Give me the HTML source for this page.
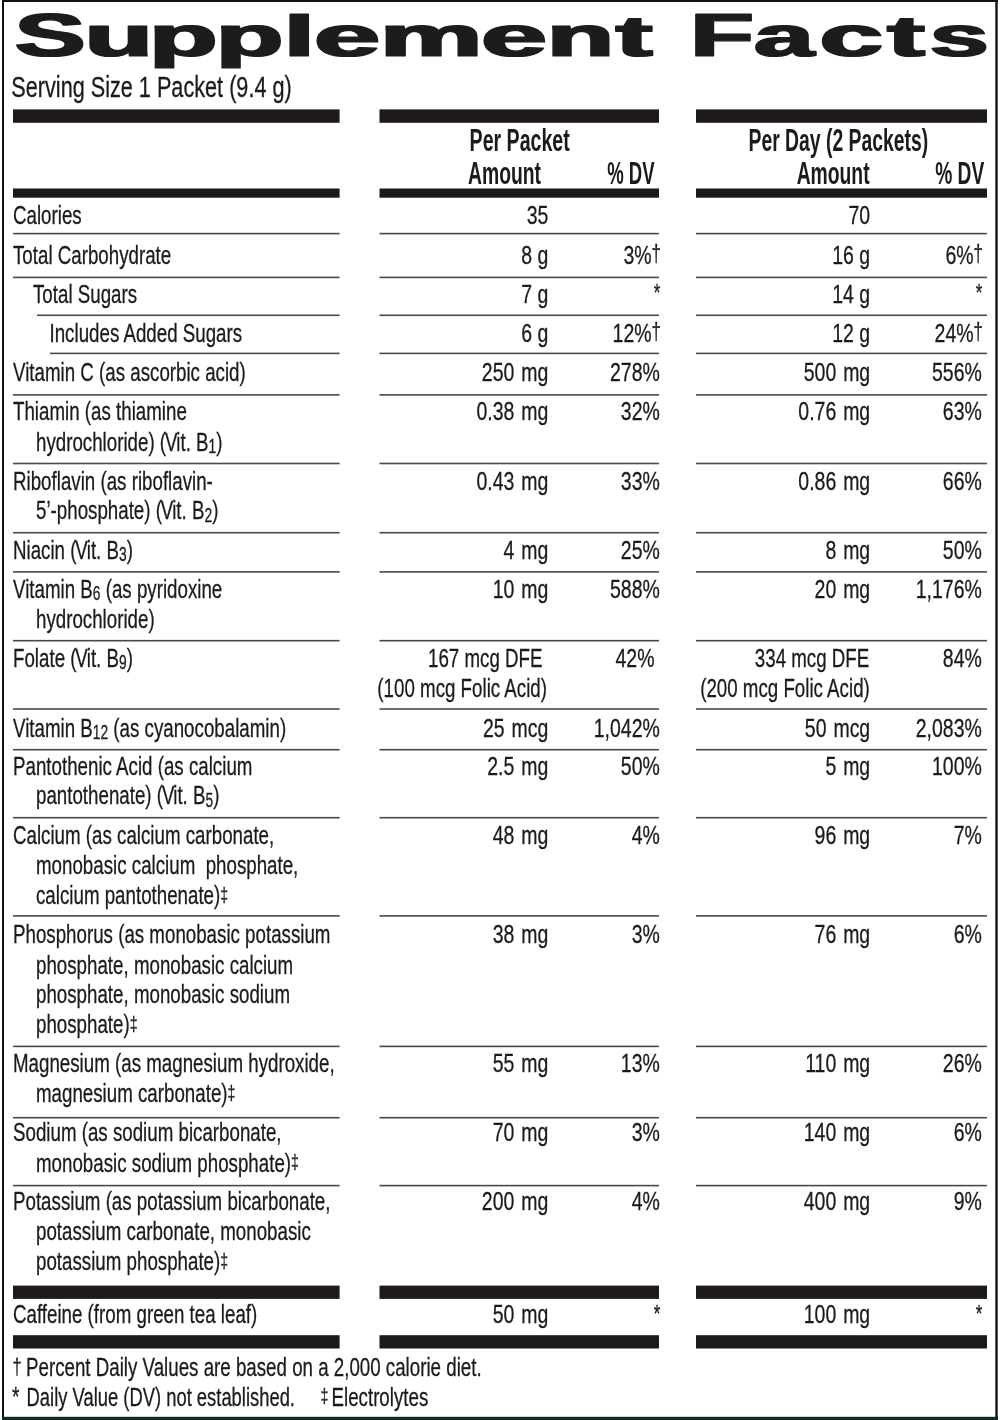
<!DOCTYPE html>
<html><head><meta charset="utf-8"><style>
html,body{margin:0;padding:0;background:#fff;width:1000px;height:1420px;overflow:hidden}
svg{display:block;will-change:transform}
text{font-family:"Liberation Sans",sans-serif;fill:#1b1b1b;white-space:pre}
</style></head><body>
<svg width="1000" height="1420" viewBox="0 0 1000 1420">
<defs><filter id="dil" filterUnits="userSpaceOnUse" x="0" y="0" width="1000" height="80"><feMorphology operator="dilate" radius="1 0"/></filter></defs>
<rect x="0" y="0" width="1000" height="1420" fill="#fff"/>
<rect x="2" y="0" width="996" height="2" fill="#111"/>
<rect x="2" y="0" width="2" height="1420" fill="#111"/>
<rect x="995.3" y="0" width="2.4" height="1420" fill="#111"/>
<rect x="2" y="1416.8" width="996" height="3.2" fill="#142a20"/>
<g filter="url(#dil)">
<text transform="translate(14.80,55.78) scale(1.7980,1.0289)" font-size="59.0" font-weight="bold" stroke="#1b1b1b" stroke-width="1.2" stroke-linejoin="round">S</text>
<text transform="translate(84.48,55.81) scale(1.9025,0.9768)" font-size="59.0" font-weight="bold" stroke="#1b1b1b" stroke-width="1.2" stroke-linejoin="round">u</text>
<text transform="translate(148.93,55.81) scale(1.9039,0.9768)" font-size="59.0" font-weight="bold" stroke="#1b1b1b" stroke-width="1.2" stroke-linejoin="round">p</text>
<text transform="translate(215.81,55.81) scale(1.8781,0.9768)" font-size="59.0" font-weight="bold" stroke="#1b1b1b" stroke-width="1.2" stroke-linejoin="round">p</text>
<text transform="translate(283.71,55.81) scale(1.8959,0.9768)" font-size="59.0" font-weight="bold" stroke="#1b1b1b" stroke-width="1.2" stroke-linejoin="round">l</text>
<text transform="translate(314.06,55.81) scale(2.0204,0.9768)" font-size="59.0" font-weight="bold" stroke="#1b1b1b" stroke-width="1.2" stroke-linejoin="round">e</text>
<text transform="translate(379.74,55.81) scale(1.9610,0.9768)" font-size="59.0" font-weight="bold" stroke="#1b1b1b" stroke-width="1.2" stroke-linejoin="round">m</text>
<text transform="translate(480.97,55.81) scale(2.0137,0.9768)" font-size="59.0" font-weight="bold" stroke="#1b1b1b" stroke-width="1.2" stroke-linejoin="round">e</text>
<text transform="translate(546.73,55.81) scale(1.8722,0.9768)" font-size="59.0" font-weight="bold" stroke="#1b1b1b" stroke-width="1.2" stroke-linejoin="round">n</text>
<text transform="translate(615.80,55.81) scale(1.8733,0.9768)" font-size="59.0" font-weight="bold" stroke="#1b1b1b" stroke-width="1.2" stroke-linejoin="round">t</text>
<text transform="translate(690.29,55.78) scale(1.7613,1.0289)" font-size="59.0" font-weight="bold" stroke="#1b1b1b" stroke-width="1.2" stroke-linejoin="round">F</text>
<text transform="translate(753.97,55.81) scale(1.8284,0.9768)" font-size="59.0" font-weight="bold" stroke="#1b1b1b" stroke-width="1.2" stroke-linejoin="round">a</text>
<text transform="translate(819.50,55.81) scale(1.9405,0.9768)" font-size="59.0" font-weight="bold" stroke="#1b1b1b" stroke-width="1.2" stroke-linejoin="round">c</text>
<text transform="translate(887.29,55.81) scale(1.9145,0.9768)" font-size="59.0" font-weight="bold" stroke="#1b1b1b" stroke-width="1.2" stroke-linejoin="round">t</text>
<text transform="translate(929.86,55.81) scale(1.7988,0.9768)" font-size="59.0" font-weight="bold" stroke="#1b1b1b" stroke-width="1.2" stroke-linejoin="round">s</text>
</g>
<text transform="translate(11.3,97.2) scale(0.722,1)" font-size="30" stroke="#1b1b1b" stroke-width="0.3">Serving Size 1 Packet (9.4 g)</text>
<rect x="13" y="109.4" width="326.6" height="13.4" fill="#1e1a1b"/>
<rect x="379.5" y="109.4" width="279.5" height="13.4" fill="#1e1a1b"/>
<rect x="696" y="109.4" width="291" height="13.4" fill="#1e1a1b"/>
<rect x="13" y="188.5" width="326.6" height="9.2" fill="#1e1a1b"/>
<rect x="379.5" y="188.5" width="279.5" height="9.2" fill="#1e1a1b"/>
<rect x="696" y="188.5" width="291" height="9.2" fill="#1e1a1b"/>
<rect x="13" y="1285.6" width="326.6" height="13.3" fill="#1e1a1b"/>
<rect x="379.5" y="1285.6" width="279.5" height="13.3" fill="#1e1a1b"/>
<rect x="696" y="1285.6" width="291" height="13.3" fill="#1e1a1b"/>
<rect x="13" y="1335.2" width="326.6" height="13.3" fill="#1e1a1b"/>
<rect x="379.5" y="1335.2" width="279.5" height="13.3" fill="#1e1a1b"/>
<rect x="696" y="1335.2" width="291" height="13.3" fill="#1e1a1b"/>
<rect x="13" y="232.79999999999998" width="326.6" height="1.6" fill="#4a4a4a"/>
<rect x="379.5" y="232.79999999999998" width="279.5" height="1.6" fill="#4a4a4a"/>
<rect x="696" y="232.79999999999998" width="291" height="1.6" fill="#4a4a4a"/>
<rect x="13" y="276.59999999999997" width="326.6" height="1.6" fill="#4a4a4a"/>
<rect x="379.5" y="276.59999999999997" width="279.5" height="1.6" fill="#4a4a4a"/>
<rect x="696" y="276.59999999999997" width="291" height="1.6" fill="#4a4a4a"/>
<rect x="37" y="314.5" width="302.6" height="1.6" fill="#4a4a4a"/>
<rect x="379.5" y="314.5" width="279.5" height="1.6" fill="#4a4a4a"/>
<rect x="696" y="314.5" width="291" height="1.6" fill="#4a4a4a"/>
<rect x="50" y="352.59999999999997" width="289.6" height="1.6" fill="#4a4a4a"/>
<rect x="379.5" y="352.59999999999997" width="279.5" height="1.6" fill="#4a4a4a"/>
<rect x="696" y="352.59999999999997" width="291" height="1.6" fill="#4a4a4a"/>
<rect x="13" y="394.09999999999997" width="326.6" height="1.6" fill="#4a4a4a"/>
<rect x="379.5" y="394.09999999999997" width="279.5" height="1.6" fill="#4a4a4a"/>
<rect x="696" y="394.09999999999997" width="291" height="1.6" fill="#4a4a4a"/>
<rect x="13" y="462.7" width="326.6" height="1.6" fill="#4a4a4a"/>
<rect x="379.5" y="462.7" width="279.5" height="1.6" fill="#4a4a4a"/>
<rect x="696" y="462.7" width="291" height="1.6" fill="#4a4a4a"/>
<rect x="13" y="531.9000000000001" width="326.6" height="1.6" fill="#4a4a4a"/>
<rect x="379.5" y="531.9000000000001" width="279.5" height="1.6" fill="#4a4a4a"/>
<rect x="696" y="531.9000000000001" width="291" height="1.6" fill="#4a4a4a"/>
<rect x="13" y="571.1" width="326.6" height="1.6" fill="#4a4a4a"/>
<rect x="379.5" y="571.1" width="279.5" height="1.6" fill="#4a4a4a"/>
<rect x="696" y="571.1" width="291" height="1.6" fill="#4a4a4a"/>
<rect x="13" y="639.9000000000001" width="326.6" height="1.6" fill="#4a4a4a"/>
<rect x="379.5" y="639.9000000000001" width="279.5" height="1.6" fill="#4a4a4a"/>
<rect x="696" y="639.9000000000001" width="291" height="1.6" fill="#4a4a4a"/>
<rect x="13" y="708.2" width="326.6" height="1.6" fill="#4a4a4a"/>
<rect x="379.5" y="708.2" width="279.5" height="1.6" fill="#4a4a4a"/>
<rect x="696" y="708.2" width="291" height="1.6" fill="#4a4a4a"/>
<rect x="13" y="748.9000000000001" width="326.6" height="1.6" fill="#4a4a4a"/>
<rect x="379.5" y="748.9000000000001" width="279.5" height="1.6" fill="#4a4a4a"/>
<rect x="696" y="748.9000000000001" width="291" height="1.6" fill="#4a4a4a"/>
<rect x="13" y="816.9000000000001" width="326.6" height="1.6" fill="#4a4a4a"/>
<rect x="379.5" y="816.9000000000001" width="279.5" height="1.6" fill="#4a4a4a"/>
<rect x="696" y="816.9000000000001" width="291" height="1.6" fill="#4a4a4a"/>
<rect x="13" y="915.1" width="326.6" height="1.6" fill="#4a4a4a"/>
<rect x="379.5" y="915.1" width="279.5" height="1.6" fill="#4a4a4a"/>
<rect x="696" y="915.1" width="291" height="1.6" fill="#4a4a4a"/>
<rect x="13" y="1045.6000000000001" width="326.6" height="1.6" fill="#4a4a4a"/>
<rect x="379.5" y="1045.6000000000001" width="279.5" height="1.6" fill="#4a4a4a"/>
<rect x="696" y="1045.6000000000001" width="291" height="1.6" fill="#4a4a4a"/>
<rect x="13" y="1116.9" width="326.6" height="1.6" fill="#4a4a4a"/>
<rect x="379.5" y="1116.9" width="279.5" height="1.6" fill="#4a4a4a"/>
<rect x="696" y="1116.9" width="291" height="1.6" fill="#4a4a4a"/>
<rect x="13" y="1184.8" width="326.6" height="1.6" fill="#4a4a4a"/>
<rect x="379.5" y="1184.8" width="279.5" height="1.6" fill="#4a4a4a"/>
<rect x="696" y="1184.8" width="291" height="1.6" fill="#4a4a4a"/>
<text transform="translate(469.6,150.9) scale(0.612,1)" font-size="32" font-weight="bold">Per Packet</text>
<text transform="translate(468.0,183.6) scale(0.604,1)" font-size="32" font-weight="bold">Amount</text>
<text transform="translate(654.6,183.6) scale(0.58,1)" font-size="32" font-weight="bold" text-anchor="end">% DV</text>
<text transform="translate(928.2,150.9) scale(0.605,1)" font-size="32" font-weight="bold" text-anchor="end">Per Day (2 Packets)</text>
<text transform="translate(869.6,183.6) scale(0.604,1)" font-size="32" font-weight="bold" text-anchor="end">Amount</text>
<text transform="translate(984.2,183.6) scale(0.6,1)" font-size="32" font-weight="bold" text-anchor="end">% DV</text>
<text transform="translate(13,224.4) scale(0.707,1)" font-size="26.5" stroke="#1b1b1b" stroke-width="0.3">Calories</text>
<text transform="translate(548.3,224.4) scale(0.735,1)" font-size="26.5" text-anchor="end" stroke="#1b1b1b" stroke-width="0.3">35</text>
<text transform="translate(870.2,224.4) scale(0.735,1)" font-size="26.5" text-anchor="end" stroke="#1b1b1b" stroke-width="0.3">70</text>
<text transform="translate(13,264.4) scale(0.707,1)" font-size="26.5" stroke="#1b1b1b" stroke-width="0.3">Total Carbohydrate</text>
<text transform="translate(548.3,264.4) scale(0.735,1)" font-size="26.5" text-anchor="end" stroke="#1b1b1b" stroke-width="0.3">8 g</text>
<text transform="translate(661.0,264.4) scale(0.735,1)" font-size="26.5" text-anchor="end" stroke="#1b1b1b" stroke-width="0.3">3%<tspan font-size="23" baseline-shift="3">†</tspan></text>
<text transform="translate(870.2,264.4) scale(0.735,1)" font-size="26.5" text-anchor="end" stroke="#1b1b1b" stroke-width="0.3">16 g</text>
<text transform="translate(983.0,264.4) scale(0.735,1)" font-size="26.5" text-anchor="end" stroke="#1b1b1b" stroke-width="0.3">6%<tspan font-size="23" baseline-shift="3">†</tspan></text>
<text transform="translate(33,302.8) scale(0.707,1)" font-size="26.5" stroke="#1b1b1b" stroke-width="0.3">Total Sugars</text>
<text transform="translate(548.3,302.8) scale(0.735,1)" font-size="26.5" text-anchor="end" stroke="#1b1b1b" stroke-width="0.3">7 g</text>
<text transform="translate(660.3,301.3) scale(0.707,1)" font-size="24" text-anchor="end" stroke="#1b1b1b" stroke-width="0.3">*</text>
<text transform="translate(870.2,302.8) scale(0.735,1)" font-size="26.5" text-anchor="end" stroke="#1b1b1b" stroke-width="0.3">14 g</text>
<text transform="translate(982.3,301.3) scale(0.707,1)" font-size="24" text-anchor="end" stroke="#1b1b1b" stroke-width="0.3">*</text>
<text transform="translate(49.5,342) scale(0.707,1)" font-size="26.5" stroke="#1b1b1b" stroke-width="0.3">Includes Added Sugars</text>
<text transform="translate(548.3,342) scale(0.735,1)" font-size="26.5" text-anchor="end" stroke="#1b1b1b" stroke-width="0.3">6 g</text>
<text transform="translate(661.0,342) scale(0.735,1)" font-size="26.5" text-anchor="end" stroke="#1b1b1b" stroke-width="0.3">12%<tspan font-size="23" baseline-shift="3">†</tspan></text>
<text transform="translate(870.2,342) scale(0.735,1)" font-size="26.5" text-anchor="end" stroke="#1b1b1b" stroke-width="0.3">12 g</text>
<text transform="translate(983.0,342) scale(0.735,1)" font-size="26.5" text-anchor="end" stroke="#1b1b1b" stroke-width="0.3">24%<tspan font-size="23" baseline-shift="3">†</tspan></text>
<text transform="translate(13,381.2) scale(0.707,1)" font-size="26.5" stroke="#1b1b1b" stroke-width="0.3">Vitamin C (as ascorbic acid)</text>
<text transform="translate(548.3,381.2) scale(0.735,1)" font-size="26.5" text-anchor="end" stroke="#1b1b1b" stroke-width="0.3" word-spacing="2">250 mg</text>
<text transform="translate(659.8,381.2) scale(0.735,1)" font-size="26.5" text-anchor="end" stroke="#1b1b1b" stroke-width="0.3">278%</text>
<text transform="translate(870.2,381.2) scale(0.735,1)" font-size="26.5" text-anchor="end" stroke="#1b1b1b" stroke-width="0.3" word-spacing="2">500 mg</text>
<text transform="translate(981.8,381.2) scale(0.735,1)" font-size="26.5" text-anchor="end" stroke="#1b1b1b" stroke-width="0.3">556%</text>
<text transform="translate(13,420) scale(0.707,1)" font-size="26.5" stroke="#1b1b1b" stroke-width="0.3">Thiamin (as thiamine</text>
<text transform="translate(36,451) scale(0.707,1)" font-size="26.5" stroke="#1b1b1b" stroke-width="0.3">hydrochloride) (<tspan dx="-1.6">V</tspan><tspan dx="-1.6">it.</tspan> B<tspan font-size="19.5" baseline-shift="-2.5">1</tspan>)</text>
<text transform="translate(548.3,420) scale(0.735,1)" font-size="26.5" text-anchor="end" stroke="#1b1b1b" stroke-width="0.3" word-spacing="2">0.38 mg</text>
<text transform="translate(659.8,420) scale(0.735,1)" font-size="26.5" text-anchor="end" stroke="#1b1b1b" stroke-width="0.3">32%</text>
<text transform="translate(870.2,420) scale(0.735,1)" font-size="26.5" text-anchor="end" stroke="#1b1b1b" stroke-width="0.3" word-spacing="2">0.76 mg</text>
<text transform="translate(981.8,420) scale(0.735,1)" font-size="26.5" text-anchor="end" stroke="#1b1b1b" stroke-width="0.3">63%</text>
<text transform="translate(13,489.6) scale(0.707,1)" font-size="26.5" stroke="#1b1b1b" stroke-width="0.3">Riboflavin (as riboflavin-</text>
<text transform="translate(36,519.2) scale(0.707,1)" font-size="26.5" stroke="#1b1b1b" stroke-width="0.3">5’-phosphate) (<tspan dx="-1.6">V</tspan><tspan dx="-1.6">it.</tspan> B<tspan font-size="19.5" baseline-shift="-2.5">2</tspan>)</text>
<text transform="translate(548.3,489.6) scale(0.735,1)" font-size="26.5" text-anchor="end" stroke="#1b1b1b" stroke-width="0.3" word-spacing="2">0.43 mg</text>
<text transform="translate(659.8,489.6) scale(0.735,1)" font-size="26.5" text-anchor="end" stroke="#1b1b1b" stroke-width="0.3">33%</text>
<text transform="translate(870.2,489.6) scale(0.735,1)" font-size="26.5" text-anchor="end" stroke="#1b1b1b" stroke-width="0.3" word-spacing="2">0.86 mg</text>
<text transform="translate(981.8,489.6) scale(0.735,1)" font-size="26.5" text-anchor="end" stroke="#1b1b1b" stroke-width="0.3">66%</text>
<text transform="translate(13,558.8) scale(0.707,1)" font-size="26.5" stroke="#1b1b1b" stroke-width="0.3">Niacin (<tspan dx="-1.6">V</tspan><tspan dx="-1.6">it.</tspan> B<tspan font-size="19.5" baseline-shift="-2.5">3</tspan>)</text>
<text transform="translate(548.3,558.8) scale(0.735,1)" font-size="26.5" text-anchor="end" stroke="#1b1b1b" stroke-width="0.3" word-spacing="2">4 mg</text>
<text transform="translate(659.8,558.8) scale(0.735,1)" font-size="26.5" text-anchor="end" stroke="#1b1b1b" stroke-width="0.3">25%</text>
<text transform="translate(870.2,558.8) scale(0.735,1)" font-size="26.5" text-anchor="end" stroke="#1b1b1b" stroke-width="0.3" word-spacing="2">8 mg</text>
<text transform="translate(981.8,558.8) scale(0.735,1)" font-size="26.5" text-anchor="end" stroke="#1b1b1b" stroke-width="0.3">50%</text>
<text transform="translate(13,598) scale(0.707,1)" font-size="26.5" stroke="#1b1b1b" stroke-width="0.3">Vitamin B<tspan font-size="19.5" baseline-shift="-2.5">6</tspan> (as pyridoxine</text>
<text transform="translate(36,627.6) scale(0.707,1)" font-size="26.5" stroke="#1b1b1b" stroke-width="0.3">hydrochloride)</text>
<text transform="translate(548.3,598) scale(0.735,1)" font-size="26.5" text-anchor="end" stroke="#1b1b1b" stroke-width="0.3" word-spacing="2">10 mg</text>
<text transform="translate(659.8,598) scale(0.735,1)" font-size="26.5" text-anchor="end" stroke="#1b1b1b" stroke-width="0.3">588%</text>
<text transform="translate(870.2,598) scale(0.735,1)" font-size="26.5" text-anchor="end" stroke="#1b1b1b" stroke-width="0.3" word-spacing="2">20 mg</text>
<text transform="translate(981.8,598) scale(0.735,1)" font-size="26.5" text-anchor="end" stroke="#1b1b1b" stroke-width="0.3">1,176%</text>
<text transform="translate(13,666.8) scale(0.707,1)" font-size="26.5" stroke="#1b1b1b" stroke-width="0.3">Folate (<tspan dx="-1.6">V</tspan><tspan dx="-1.6">it.</tspan> B<tspan font-size="19.5" baseline-shift="-2.5">9</tspan>)</text>
<text transform="translate(981.8,666.8) scale(0.735,1)" font-size="26.5" text-anchor="end" stroke="#1b1b1b" stroke-width="0.3">84%</text>
<text transform="translate(13,736.7) scale(0.707,1)" font-size="26.5" stroke="#1b1b1b" stroke-width="0.3">Vitamin B<tspan font-size="19.5" baseline-shift="-2.5">12</tspan> (as cyanocobalamin)</text>
<text transform="translate(548.3,736.7) scale(0.735,1)" font-size="26.5" text-anchor="end" stroke="#1b1b1b" stroke-width="0.3" word-spacing="2">25 mcg</text>
<text transform="translate(659.8,736.7) scale(0.735,1)" font-size="26.5" text-anchor="end" stroke="#1b1b1b" stroke-width="0.3">1,042%</text>
<text transform="translate(870.2,736.7) scale(0.735,1)" font-size="26.5" text-anchor="end" stroke="#1b1b1b" stroke-width="0.3" word-spacing="2">50 mcg</text>
<text transform="translate(981.8,736.7) scale(0.735,1)" font-size="26.5" text-anchor="end" stroke="#1b1b1b" stroke-width="0.3">2,083%</text>
<text transform="translate(13,774.8) scale(0.707,1)" font-size="26.5" stroke="#1b1b1b" stroke-width="0.3">Pantothenic Acid (as calcium</text>
<text transform="translate(36,804.4) scale(0.707,1)" font-size="26.5" stroke="#1b1b1b" stroke-width="0.3">pantothenate) (<tspan dx="-1.6">V</tspan><tspan dx="-1.6">it.</tspan> B<tspan font-size="19.5" baseline-shift="-2.5">5</tspan>)</text>
<text transform="translate(548.3,774.8) scale(0.735,1)" font-size="26.5" text-anchor="end" stroke="#1b1b1b" stroke-width="0.3" word-spacing="2">2.5 mg</text>
<text transform="translate(659.8,774.8) scale(0.735,1)" font-size="26.5" text-anchor="end" stroke="#1b1b1b" stroke-width="0.3">50%</text>
<text transform="translate(870.2,774.8) scale(0.735,1)" font-size="26.5" text-anchor="end" stroke="#1b1b1b" stroke-width="0.3" word-spacing="2">5 mg</text>
<text transform="translate(981.8,774.8) scale(0.735,1)" font-size="26.5" text-anchor="end" stroke="#1b1b1b" stroke-width="0.3">100%</text>
<text transform="translate(13,844.4) scale(0.707,1)" font-size="26.5" stroke="#1b1b1b" stroke-width="0.3">Calcium (as calcium carbonate,</text>
<text transform="translate(36,874.4) scale(0.707,1)" font-size="26.5" stroke="#1b1b1b" stroke-width="0.3">monobasic calcium  phosphate,</text>
<text transform="translate(36,904) scale(0.707,1)" font-size="26.5" stroke="#1b1b1b" stroke-width="0.3">calcium pantothenate)<tspan font-size="20" baseline-shift="2.5">‡</tspan></text>
<text transform="translate(548.3,844.4) scale(0.735,1)" font-size="26.5" text-anchor="end" stroke="#1b1b1b" stroke-width="0.3" word-spacing="2">48 mg</text>
<text transform="translate(659.8,844.4) scale(0.735,1)" font-size="26.5" text-anchor="end" stroke="#1b1b1b" stroke-width="0.3">4%</text>
<text transform="translate(870.2,844.4) scale(0.735,1)" font-size="26.5" text-anchor="end" stroke="#1b1b1b" stroke-width="0.3" word-spacing="2">96 mg</text>
<text transform="translate(981.8,844.4) scale(0.735,1)" font-size="26.5" text-anchor="end" stroke="#1b1b1b" stroke-width="0.3">7%</text>
<text transform="translate(13,943.2) scale(0.707,1)" font-size="26.5" stroke="#1b1b1b" stroke-width="0.3">Phosphorus (as monobasic potassium</text>
<text transform="translate(36,973.6) scale(0.707,1)" font-size="26.5" stroke="#1b1b1b" stroke-width="0.3">phosphate, monobasic calcium</text>
<text transform="translate(36,1002.8) scale(0.707,1)" font-size="26.5" stroke="#1b1b1b" stroke-width="0.3">phosphate, monobasic sodium</text>
<text transform="translate(36,1033.2) scale(0.707,1)" font-size="26.5" stroke="#1b1b1b" stroke-width="0.3">phosphate)<tspan font-size="20" baseline-shift="2.5">‡</tspan></text>
<text transform="translate(548.3,943.2) scale(0.735,1)" font-size="26.5" text-anchor="end" stroke="#1b1b1b" stroke-width="0.3" word-spacing="2">38 mg</text>
<text transform="translate(659.8,943.2) scale(0.735,1)" font-size="26.5" text-anchor="end" stroke="#1b1b1b" stroke-width="0.3">3%</text>
<text transform="translate(870.2,943.2) scale(0.735,1)" font-size="26.5" text-anchor="end" stroke="#1b1b1b" stroke-width="0.3" word-spacing="2">76 mg</text>
<text transform="translate(981.8,943.2) scale(0.735,1)" font-size="26.5" text-anchor="end" stroke="#1b1b1b" stroke-width="0.3">6%</text>
<text transform="translate(13,1072.4) scale(0.707,1)" font-size="26.5" stroke="#1b1b1b" stroke-width="0.3">Magnesium (as magnesium hydroxide,</text>
<text transform="translate(36,1102) scale(0.707,1)" font-size="26.5" stroke="#1b1b1b" stroke-width="0.3">magnesium carbonate)<tspan font-size="20" baseline-shift="2.5">‡</tspan></text>
<text transform="translate(548.3,1072.4) scale(0.735,1)" font-size="26.5" text-anchor="end" stroke="#1b1b1b" stroke-width="0.3" word-spacing="2">55 mg</text>
<text transform="translate(659.8,1072.4) scale(0.735,1)" font-size="26.5" text-anchor="end" stroke="#1b1b1b" stroke-width="0.3">13%</text>
<text transform="translate(870.2,1072.4) scale(0.735,1)" font-size="26.5" text-anchor="end" stroke="#1b1b1b" stroke-width="0.3" word-spacing="2">110 mg</text>
<text transform="translate(981.8,1072.4) scale(0.735,1)" font-size="26.5" text-anchor="end" stroke="#1b1b1b" stroke-width="0.3">26%</text>
<text transform="translate(13,1141.2) scale(0.707,1)" font-size="26.5" stroke="#1b1b1b" stroke-width="0.3">Sodium (as sodium bicarbonate,</text>
<text transform="translate(36,1171.6) scale(0.707,1)" font-size="26.5" stroke="#1b1b1b" stroke-width="0.3">monobasic sodium phosphate)<tspan font-size="20" baseline-shift="2.5">‡</tspan></text>
<text transform="translate(548.3,1141.2) scale(0.735,1)" font-size="26.5" text-anchor="end" stroke="#1b1b1b" stroke-width="0.3" word-spacing="2">70 mg</text>
<text transform="translate(659.8,1141.2) scale(0.735,1)" font-size="26.5" text-anchor="end" stroke="#1b1b1b" stroke-width="0.3">3%</text>
<text transform="translate(870.2,1141.2) scale(0.735,1)" font-size="26.5" text-anchor="end" stroke="#1b1b1b" stroke-width="0.3" word-spacing="2">140 mg</text>
<text transform="translate(981.8,1141.2) scale(0.735,1)" font-size="26.5" text-anchor="end" stroke="#1b1b1b" stroke-width="0.3">6%</text>
<text transform="translate(13,1210) scale(0.707,1)" font-size="26.5" stroke="#1b1b1b" stroke-width="0.3">Potassium (as potassium bicarbonate,</text>
<text transform="translate(36,1240.4) scale(0.707,1)" font-size="26.5" stroke="#1b1b1b" stroke-width="0.3">potassium carbonate, monobasic</text>
<text transform="translate(36,1270) scale(0.707,1)" font-size="26.5" stroke="#1b1b1b" stroke-width="0.3">potassium phosphate)<tspan font-size="20" baseline-shift="2.5">‡</tspan></text>
<text transform="translate(548.3,1210) scale(0.735,1)" font-size="26.5" text-anchor="end" stroke="#1b1b1b" stroke-width="0.3" word-spacing="2">200 mg</text>
<text transform="translate(659.8,1210) scale(0.735,1)" font-size="26.5" text-anchor="end" stroke="#1b1b1b" stroke-width="0.3">4%</text>
<text transform="translate(870.2,1210) scale(0.735,1)" font-size="26.5" text-anchor="end" stroke="#1b1b1b" stroke-width="0.3" word-spacing="2">400 mg</text>
<text transform="translate(981.8,1210) scale(0.735,1)" font-size="26.5" text-anchor="end" stroke="#1b1b1b" stroke-width="0.3">9%</text>
<text transform="translate(13,1323.2) scale(0.707,1)" font-size="26.5" stroke="#1b1b1b" stroke-width="0.3">Caffeine (from green tea leaf)</text>
<text transform="translate(548.3,1323.2) scale(0.735,1)" font-size="26.5" text-anchor="end" stroke="#1b1b1b" stroke-width="0.3" word-spacing="2">50 mg</text>
<text transform="translate(660.3,1321.7) scale(0.707,1)" font-size="24" text-anchor="end" stroke="#1b1b1b" stroke-width="0.3">*</text>
<text transform="translate(870.2,1323.2) scale(0.735,1)" font-size="26.5" text-anchor="end" stroke="#1b1b1b" stroke-width="0.3" word-spacing="2">100 mg</text>
<text transform="translate(982.3,1321.7) scale(0.707,1)" font-size="24" text-anchor="end" stroke="#1b1b1b" stroke-width="0.3">*</text>
<text transform="translate(654.5,666.8) scale(0.735,1)" font-size="26.5" text-anchor="end" stroke="#1b1b1b" stroke-width="0.3">42%</text>
<text transform="translate(542.5,666.8) scale(0.707,1)" font-size="26.5" text-anchor="end" stroke="#1b1b1b" stroke-width="0.3">167 mcg DFE</text>
<text transform="translate(547,697) scale(0.707,1)" font-size="26.5" text-anchor="end" stroke="#1b1b1b" stroke-width="0.3">(100 mcg Folic Acid)</text>
<text transform="translate(869.3,666.8) scale(0.707,1)" font-size="26.5" text-anchor="end" stroke="#1b1b1b" stroke-width="0.3">334 mcg DFE</text>
<text transform="translate(869.8,697) scale(0.707,1)" font-size="26.5" text-anchor="end" stroke="#1b1b1b" stroke-width="0.3">(200 mcg Folic Acid)</text>
<text transform="translate(12.6,1376) scale(0.707,1)" font-size="26.5" stroke="#1b1b1b" stroke-width="0.3"><tspan font-size="23" baseline-shift="2">†</tspan></text>
<text transform="translate(26.0,1376) scale(0.707,1)" font-size="26.5" stroke="#1b1b1b" stroke-width="0.3">Percent Daily Values are based on a 2,000 calorie diet.</text>
<text transform="translate(12.0,1405.6) scale(0.707,1)" font-size="27" stroke="#1b1b1b" stroke-width="0.3">*</text>
<text transform="translate(26.6,1406) scale(0.694,1)" font-size="26.5" stroke="#1b1b1b" stroke-width="0.3">Daily Value (DV) not established.</text>
<text transform="translate(320.5,1405.6) scale(0.707,1)" font-size="26.5" stroke="#1b1b1b" stroke-width="0.3"><tspan font-size="20" baseline-shift="2.5">‡</tspan></text>
<text transform="translate(331.5,1405.6) scale(0.707,1)" font-size="26.5" stroke="#1b1b1b" stroke-width="0.3">Electrolytes</text>
</svg>
</body></html>
